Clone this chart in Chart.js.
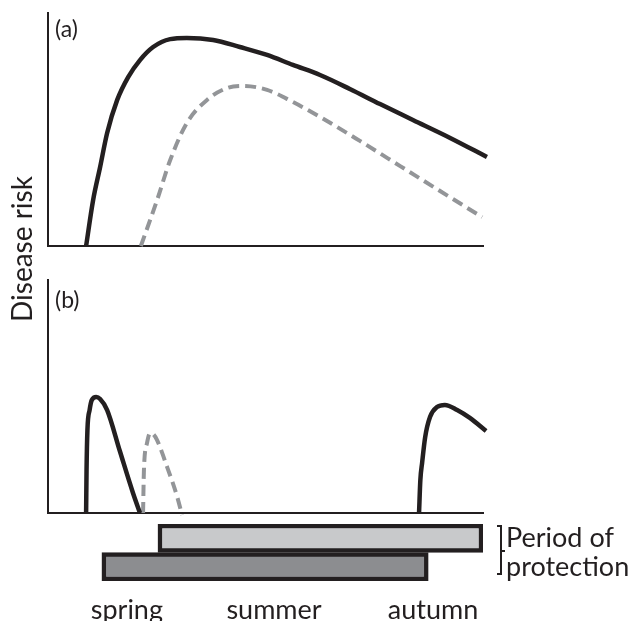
<!DOCTYPE html>
<html>
<head>
<meta charset="utf-8">
<script src="https://cdn.jsdelivr.net/npm/chart.js@4.4.1/dist/chart.umd.min.js"></script>
<style>
html,body{margin:0;padding:0;background:#fff;}
#wrap{position:relative;width:631px;height:621px;overflow:hidden;font-family:Lato,"Open Sans",sans-serif;color:#231f20;background:#fff;}
canvas{position:absolute;left:0;top:0;}
.t{position:absolute;white-space:nowrap;}
</style>
</head>
<body>
<div id="wrap">
  <canvas id="cA" width="631" height="621"></canvas>
  <canvas id="cB" width="631" height="621"></canvas>
  <canvas id="cC" width="631" height="621"></canvas>
  <div class="t" style="font-size:28px;line-height:28px;width:200px;height:28px;text-align:center;left:-79px;top:234.5px;transform:rotate(-90deg);">Disease risk</div>
  <div class="t" style="font-size:23px;line-height:22px;left:55px;top:16.5px;">(a)</div>
  <div class="t" style="font-size:23px;line-height:22px;left:55px;top:287.5px;">(b)</div>
  <div class="t" style="font-size:27px;line-height:29px;left:506px;top:522px;">Period of<br>protection</div>
  <div style="position:absolute;left:497px;top:525px;width:3px;height:46px;border:2px solid #231f20;border-left:none;"></div>
  <div style="position:absolute;left:502px;top:550px;width:3px;height:2px;background:#231f20;"></div>
</div>
<script>
// ---- data (x: time through the season, 0..100; y: relative disease risk, 0..100) ----
const panelA_early_x = [8.7,10.3,11.9,13.5,15.8,18.3,21.0,24.0,27.9,31.7,37.7,43.8,50.0,55.9,62.1,68.9,75.8,83.3,91.8,100.2];
const panelA_early_y = [0,19.7,33.9,48.5,62.7,72.5,79.8,85.4,88.8,89.3,88.4,85.4,82.0,77.7,73.4,67.4,60.9,54.1,46.4,38.2];
const panelA_late_x  = [21.2,24.9,27.9,31.7,36.3,40.9,44.5,50.0,55.9,62.1,71.2,80.4,89.5,99.1];
const panelA_late_y  = [0,19.7,36.9,52.8,62.7,67.8,68.7,67.0,61.8,55.4,45.1,34.3,23.6,12.4];

const panelB_spring_x = [8.7,8.8,9.0,9.5,10.0,11.0,11.9,13.5,16.4,19.4,21.0];
const panelB_spring_y = [0,18.5,35.6,44.2,48.5,49.8,48.9,44.2,26.6,8.6,0];
const panelB_late_x   = [21.7,21.9,22.6,23.3,24.0,24.9,27.2,29.5,30.6];
const panelB_late_y   = [0,18.5,30.0,34.3,33.9,31.3,19.7,6.9,-0.9];
const panelB_autumn_x = [84.7,85.0,85.4,86.1,87.2,88.8,90.6,93.4,96.3,100];
const panelB_autumn_y = [0,14.2,21.5,32.6,41.2,45.5,46.4,44.2,40.8,35.2];

const protectionLabels = ['later protection','earlier protection'];
const protectionStart  = [25.1, 12.3];
const protectionEnd    = [99.3, 86.8];

const seasonLabels = ['spring','summer','autumn'];
const seasonPos    = [18.0, 51.6, 87.9];

const X_MIN = 0, X_MAX = 99.3, Y_MIN = 0, Y_MAX = 100;

// ---- styling ----
const INK = '#231f20';
const GREY = '#939598';
Chart.defaults.font.family = 'Lato';
Chart.defaults.color = INK;

function pts(xs, ys){ return xs.map((x,i)=>({x:x, y:ys[i]})); }
function solid(xs, ys){ return {data:pts(xs,ys), borderColor:INK, borderWidth:4.5, pointRadius:0, cubicInterpolationMode:'monotone', clip:false, fill:false}; }
function dashed(xs, ys){ return {data:pts(xs,ys), borderColor:GREY, borderWidth:4, borderDash:[11,6], pointRadius:0, cubicInterpolationMode:'monotone', clip:false, fill:false}; }
function axis(min, max){
  return {type:'linear', min:min, max:max, display:true,
    grid:{display:false, drawTicks:false}, ticks:{display:false},
    border:{display:true, color:INK, width:2}};
}
const common = {responsive:false, animation:false, devicePixelRatio:1,
  plugins:{legend:{display:false}, tooltip:{enabled:false}}, events:[]};

function panel(id, datasets, top, bottom){
  return new Chart(document.getElementById(id), {
    type:'line',
    data:{datasets:datasets},
    options:Object.assign({}, common, {
      layout:{padding:{left:48, right:148, top:top, bottom:621-bottom}},
      scales:{x:axis(X_MIN, X_MAX), y:axis(Y_MIN, Y_MAX)}
    })
  });
}

panel('cA', [solid(panelA_early_x, panelA_early_y), dashed(panelA_late_x, panelA_late_y)], 13, 246);
panel('cB', [solid(panelB_spring_x, panelB_spring_y), dashed(panelB_late_x, panelB_late_y), solid(panelB_autumn_x, panelB_autumn_y)], 280, 513);

new Chart(document.getElementById('cC'), {
  type:'bar',
  data:{
    labels:protectionLabels,
    datasets:[{
      data:protectionStart.map((s,i)=>[s, protectionEnd[i]]),
      backgroundColor:['#c8c9cb','#8c8d90'],
      borderColor:INK, borderWidth:4.5, borderSkipped:false,
      barPercentage:1, categoryPercentage:1
    }]
  },
  options:Object.assign({}, common, {
    indexAxis:'y',
    layout:{padding:{left:48, right:148, top:524, bottom:0}},
    scales:{
      x:{type:'linear', min:X_MIN, max:X_MAX, display:true,
        grid:{display:false, drawTicks:false}, border:{display:false},
        afterBuildTicks:(s)=>{ s.ticks = seasonPos.map(v=>({value:v})); },
        afterFit:(s)=>{ s.height = 40; },
        ticks:{autoSkip:false, maxRotation:0, minRotation:0, padding:13, color:INK,
          font:{size:27, family:'Lato'},
          callback:(v,i)=>seasonLabels[i]}
      },
      y:{type:'category', display:false}
    }
  })
});
</script>
</body>
</html>
